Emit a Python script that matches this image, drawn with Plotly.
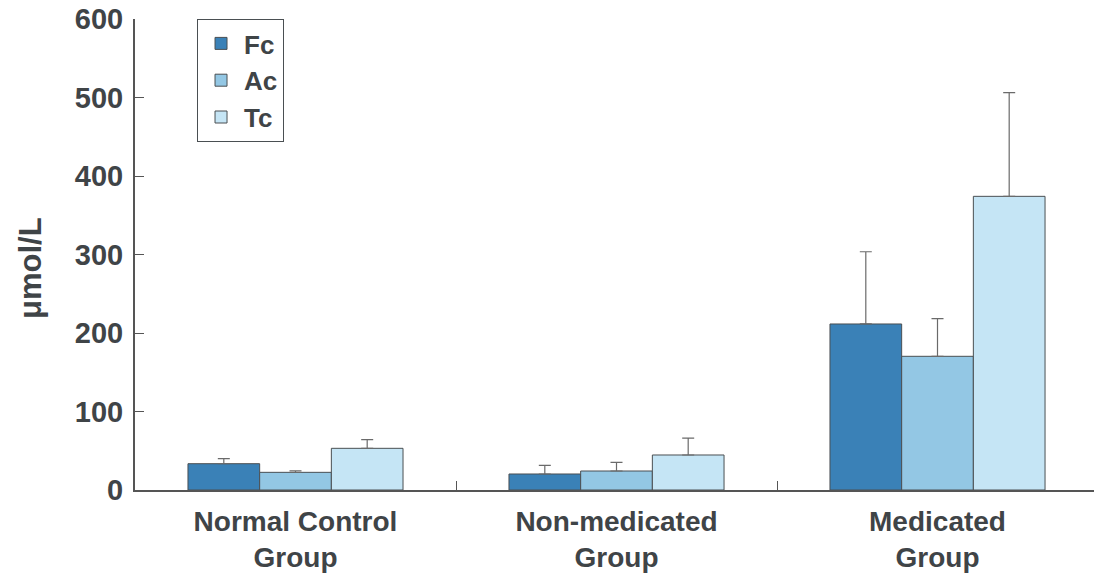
import plotly.graph_objects as go

categories = ["Normal Control<br>Group", "Non-medicated<br>Group", "Medicated<br>Group"]
series_names = ["Fc", "Ac", "Tc"]
fc_values = [33.5, 20.4, 211.5]
fc_errors = [6.4, 11.0, 92.0]
ac_values = [22.5, 24.2, 170.3]
ac_errors = [2.0, 11.0, 48.0]
tc_values = [53.1, 44.6, 374.1]
tc_errors = [11.0, 21.6, 132.0]
colors = ["#3a81b7", "#93c7e4", "#c5e5f5"]
y_ticks = [0, 100, 200, 300, 400, 500, 600]
y_title = "μmol/L"

font_family = "Liberation Sans, Arial, sans-serif"
text_color = "#3f4447"
axis_color = "#555555"

fig = go.Figure()
for name, vals, errs, col in zip(series_names, [fc_values, ac_values, tc_values],
                                 [fc_errors, ac_errors, tc_errors], colors):
    fig.add_trace(go.Bar(
        name=name, x=categories, y=vals,
        marker=dict(color=col, line=dict(color="#4a4f52", width=1)),
        error_y=dict(type="data", array=errs, symmetric=False, arrayminus=[0]*len(errs),
                     color="#6a6a6a", thickness=1.2, width=6),
    ))

fig.update_layout(
    width=1098, height=576,
    margin=dict(l=135, r=0, t=19, b=86),
    paper_bgcolor="white", plot_bgcolor="white",
    barmode="group", bargap=0.33, bargroupgap=0,
    font=dict(family=font_family, color=text_color, size=26),
    legend=dict(x=0.0644, y=1, xanchor="left", yanchor="top",
                bordercolor="#4a4f52", borderwidth=1,
                font=dict(size=26, family=font_family, color=text_color, weight="bold"),
                tracegroupgap=0, itemwidth=36, entrywidth=95, entrywidthmode="pixels"),
    xaxis=dict(showline=True, linecolor=axis_color, linewidth=2, automargin=False,
               ticks="inside", tickson="boundaries", ticklen=9, tickcolor=axis_color,
               ticklabelstandoff=5,
               tickfont=dict(size=28, weight="bold", family=font_family, color=text_color),
               showgrid=False),
    yaxis=dict(range=[0, 600], tickvals=y_ticks, showline=True, linecolor=axis_color, linewidth=2,
               automargin=False, ticklabelstandoff=4,
               ticks="inside", ticklen=9, tickcolor=axis_color, showgrid=False, zeroline=False,
               tickfont=dict(size=29, weight="bold", family=font_family, color=text_color)),
    annotations=[dict(text=y_title, textangle=-90, xref="paper", yref="paper",
                      x=-0.109, y=0.4713, xanchor="center", yanchor="middle", showarrow=False,
                      font=dict(size=31, weight="bold", family=font_family, color=text_color))],
)

fig.write_html("out.html", config={"displayModeBar": False},
               post_script="document.body.style.margin='0';document.body.style.overflow='hidden';")
